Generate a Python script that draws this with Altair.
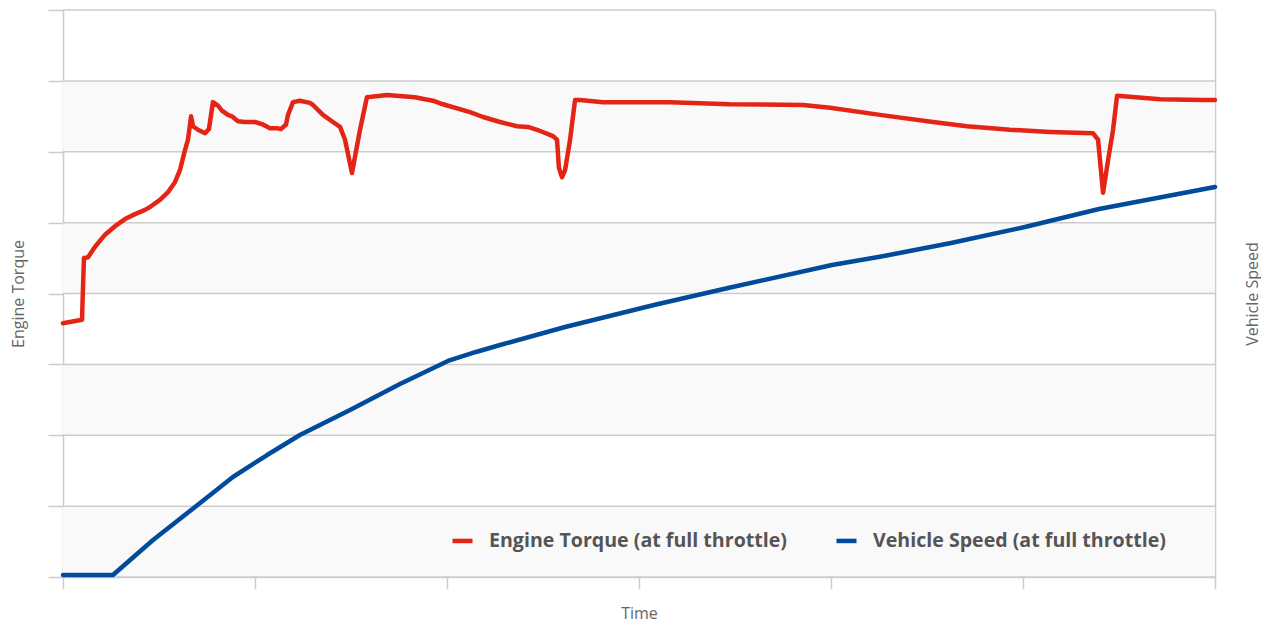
import altair as alt
import pandas as pd

# ---- data ----
torque_t = [0, 0.99, 1.09, 1.30, 1.67, 2.19, 2.71, 3.23, 3.75, 4.27, 4.53, 5.05, 5.47, 5.83,
            6.09, 6.35, 6.51, 6.67, 6.77, 7.03, 7.40, 7.60, 7.81, 8.07, 8.28, 8.59, 8.80, 9.11,
            9.48, 10.0, 10.36, 10.78, 11.20, 11.35, 11.61, 11.72, 11.98, 12.34, 12.86, 13.02,
            13.54, 14.06, 14.43, 14.69, 15.05, 15.47, 15.83, 16.88, 18.33, 18.85, 19.27, 19.79,
            21.2, 21.88, 22.76, 23.65, 24.22, 24.69, 25.52, 25.73, 25.83, 25.99, 26.15, 26.41,
            26.67, 26.93, 28.13, 30.05, 31.61, 34.74, 38.54, 39.95, 42.55, 45.31, 47.08, 49.32,
            51.41, 53.65, 53.91, 54.17, 54.43, 54.69, 54.90, 57.14, 59.38, 60.0]
torque_v = [35.8, 36.3, 45.0, 45.1, 46.6, 48.3, 49.5, 50.5, 51.2, 51.8, 52.2, 53.2, 54.3, 55.7,
            57.4, 60.2, 61.7, 65.0, 63.6, 63.1, 62.6, 63.2, 67.0, 66.5, 65.8, 65.2, 65.0, 64.3,
            64.2, 64.2, 63.9, 63.3, 63.3, 63.2, 63.8, 65.2, 67.0, 67.2, 66.9, 66.6,
            65.2, 64.2, 63.5, 61.7, 57.0, 63.1, 67.7, 68.0, 67.7, 67.4, 67.2, 66.7,
            65.6, 64.9, 64.2, 63.6, 63.5, 63.1, 62.2, 61.7, 57.7, 56.4, 57.4, 61.7,
            67.3, 67.3, 67.0, 67.0, 67.0, 66.7, 66.6, 66.2, 65.2, 64.2, 63.6, 63.1,
            62.8, 62.6, 61.7, 54.2, 58.8, 63.1, 67.9, 67.4, 67.3, 67.3]

speed_t = [0, 2.60, 4.69, 7.14, 8.85, 10.63, 12.34, 14.95, 17.55, 20.05, 21.51, 22.76,
           26.15, 30.78, 34.64, 40.05, 42.76, 46.25, 50.10, 53.96, 60.0]
speed_v = [0.28, 0.28, 5.22, 10.44, 14.11, 17.21, 20.04, 23.56, 27.23, 30.48, 31.75, 32.73,
           35.27, 38.38, 40.78, 44.02, 45.29, 47.12, 49.38, 51.92, 55.03]

band_lo = [0, 20, 40, 60]
band_hi = [10, 30, 50, 70]
grid_vals = [0, 10, 20, 30, 40, 50, 60, 70, 80]
x_ticks = [0, 10, 20, 30, 40, 50, 60]

series_names = ["Engine Torque (at full throttle)", "Vehicle Speed (at full throttle)"]
series_colors = ["#e42515", "#004b9b"]

W, H = 1152, 567
FONT = "Open Sans"
GRID = "#cccccc"

torque_df = pd.DataFrame({"t": torque_t, "v": torque_v, "series": series_names[0]})
speed_df = pd.DataFrame({"t": speed_t, "v": speed_v, "series": series_names[1]})
band_df = pd.DataFrame({"lo": band_lo, "hi": band_hi})
grid_df = pd.DataFrame({"g": grid_vals})

xscale = alt.Scale(domain=[0, 60], nice=False, zero=False)
yscale = alt.Scale(domain=[0, 80], nice=False, zero=False)

color = alt.Color(
    "series:N",
    scale=alt.Scale(domain=series_names, range=series_colors),
    legend=alt.Legend(
        title=None, orient="none", legendX=387, legendY=518, direction="horizontal",
        symbolType="stroke", symbolSize=400, symbolStrokeWidth=4.5,
        labelFont=FONT, labelFontSize=19.6, labelFontWeight="bold", labelColor="#555555",
        labelOffset=14, columnPadding=40, labelLimit=0, padding=0,
    ),
)

bands = alt.Chart(band_df).mark_rect(color="#f9f9f9").encode(
    y=alt.Y("lo:Q", scale=yscale, axis=None),
    y2="hi:Q",
    x=alt.value(0),
    x2=alt.value(W),
)

grid = alt.Chart(grid_df).mark_rule(color=GRID, strokeWidth=1.5).encode(
    y=alt.Y("g:Q", scale=yscale, axis=None),
)

line_style = dict(strokeWidth=4.5, strokeCap="round", strokeJoin="round")

torque = alt.Chart(torque_df).mark_line(**line_style).encode(
    x=alt.X("t:Q", scale=xscale, axis=alt.Axis(
        title="Time", values=x_ticks, labels=False, grid=False,
        ticks=True, tickSize=12, tickColor=GRID, tickWidth=1.5,
        domain=True, domainColor=GRID, domainWidth=1.5,
        titleFont=FONT, titleFontSize=16, titleFontWeight="normal", titleColor="#666666",
        titlePadding=16,
    )),
    y=alt.Y("v:Q", scale=yscale, axis=alt.Axis(
        orient="left", title="Engine Torque", values=grid_vals, labels=False, grid=False,
        ticks=True, tickSize=15, tickColor=GRID, tickWidth=1.5,
        domain=True, domainColor=GRID, domainWidth=1.5,
        titleFont=FONT, titleFontSize=16, titleFontWeight="normal", titleColor="#666666",
        titlePadding=21,
    )),
    color=color,
    order="t:Q",
)

speed = alt.Chart(speed_df).mark_line(**line_style).encode(
    x=alt.X("t:Q", scale=xscale),
    y=alt.Y("v:Q", scale=yscale, axis=alt.Axis(
        orient="right", title="Vehicle Speed", labels=False, grid=False, ticks=False,
        domain=True, domainColor=GRID, domainWidth=1.5,
        titleFont=FONT, titleFontSize=16, titleFontWeight="normal", titleColor="#666666",
        titleAngle=270, titleBaseline="top", titlePadding=29,
    )),
    color=color,
    order="t:Q",
)

chart = alt.layer(bands, grid, torque, speed).resolve_scale(y="independent").properties(
    width=W, height=H,
    autosize=alt.AutoSizeParams(type="none"),
    padding={"left": 55, "top": 2, "right": 46, "bottom": 46},
).configure_view(stroke=None)

chart.save("out.html", embed_options={"renderer": "svg", "actions": False})
